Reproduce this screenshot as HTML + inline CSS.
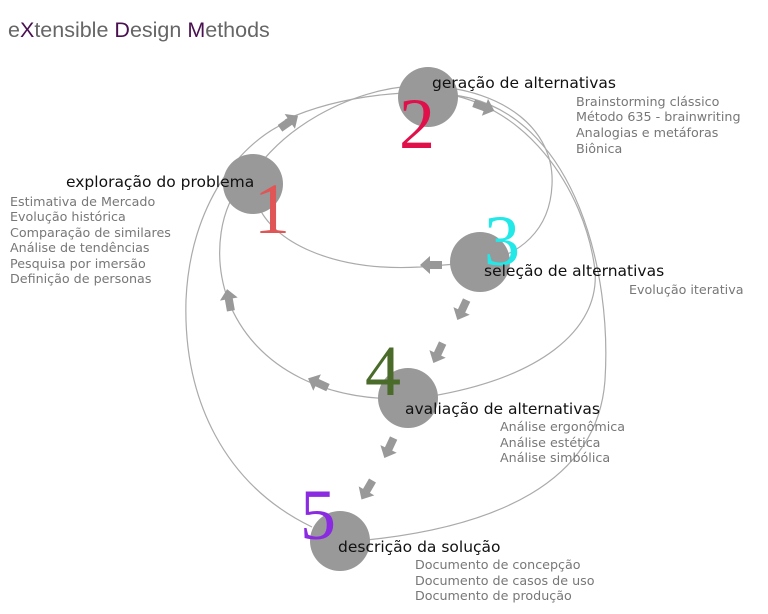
<!DOCTYPE html>
<html><head><meta charset="utf-8"><style>
html,body{margin:0;padding:0;background:#fff;}
svg{display:block;}
.t{font-family:"Liberation Sans",sans-serif;}
.lab{font-family:"DejaVu Sans","Liberation Sans",sans-serif;font-size:15.5px;fill:#111;}
.sub{font-family:"DejaVu Sans","Liberation Sans",sans-serif;font-size:12.7px;fill:#777;}
.num{font-family:"Liberation Serif",serif;font-size:72px;}
</style></head><body>
<svg width="768" height="614" viewBox="0 0 768 614" xmlns="http://www.w3.org/2000/svg">
<defs>
<polygon id="ar" points="-11,-4 1,-4 1,-9 11,0 1,9 1,4 -11,4" fill="#999"/>
</defs>
<text x="8" y="37" class="t" font-size="21.5" fill="#666">e<tspan fill="#4a1050">X</tspan>tensible <tspan fill="#4a1050">D</tspan>esign <tspan fill="#4a1050">M</tspan>ethods</text>
<g fill="none" stroke="#aaa" stroke-width="1.2">
<path d="M240,200 C 265,130 360,82 430,86 C 505,90 555,130 552,185 C 550,230 520,256 480,262 L 420,267 C 330,272 272,240 258,205"/>
<path d="M430,92 C 525,98 585,190 595,270 C 600,330 540,380 420,398 C 330,405 255,370 228,300 C 212,255 220,205 245,180"/>
<path d="M285,120 C 340,95 420,86 470,98 C 575,125 612,270 605,380 C 598,480 500,530 345,542"/>
<path d="M312,527 C 225,485 183,400 186,300 C 190,205 240,140 292,120"/>
</g>
<circle cx="253" cy="184" r="30" fill="#999"/>
<circle cx="428" cy="97" r="30" fill="#999"/>
<circle cx="480" cy="262" r="30" fill="#999"/>
<circle cx="408" cy="398" r="30" fill="#999"/>
<circle cx="340" cy="541" r="30" fill="#999"/>
<use href="#ar" transform="translate(289,122) rotate(-35)"/>
<use href="#ar" transform="translate(484,107) rotate(20)"/>
<use href="#ar" transform="translate(431,265) rotate(180)"/>
<use href="#ar" transform="translate(462,310) rotate(115)"/>
<use href="#ar" transform="translate(438,353) rotate(115)"/>
<use href="#ar" transform="translate(318,383) rotate(-155)"/>
<use href="#ar" transform="translate(229,300) rotate(-100)"/>
<use href="#ar" transform="translate(389,448) rotate(115)"/>
<use href="#ar" transform="translate(367,490) rotate(120)"/>
<text x="254" y="233" class="num" fill="#e05555">1</text>
<text x="399" y="148" class="num" fill="#e0104a">2</text>
<text x="484" y="265" class="num" fill="#22e8e8">3</text>
<text x="365" y="395" class="num" fill="#4a6b2a">4</text>
<text x="300" y="539" class="num" fill="#8a2be2">5</text>
<text x="66" y="187" class="lab">exploração do problema</text>
<g class="sub"><text x="10" y="206">Estimativa de Mercado</text><text x="10" y="221">Evolução histórica</text><text x="10" y="237">Comparação de similares</text><text x="10" y="252">Análise de tendências</text><text x="10" y="268">Pesquisa por imersão</text><text x="10" y="283">Definição de personas</text></g>
<text x="432" y="88" class="lab">geração de alternativas</text>
<g class="sub"><text x="576" y="106">Brainstorming clássico</text><text x="576" y="121">Método 635 - brainwriting</text><text x="576" y="137">Analogias e metáforas</text><text x="576" y="153">Biônica</text></g>
<text x="484" y="276" class="lab">seleção de alternativas</text>
<text x="629" y="294" class="sub">Evolução iterativa</text>
<text x="405" y="414" class="lab">avaliação de alternativas</text>
<g class="sub"><text x="500" y="431">Análise ergonômica</text><text x="500" y="447">Análise estética</text><text x="500" y="462">Análise simbólica</text></g>
<text x="338" y="552" class="lab">descrição da solução</text>
<g class="sub"><text x="415" y="569">Documento de concepção</text><text x="415" y="585">Documento de casos de uso</text><text x="415" y="600">Documento de produção</text></g>
</svg>
</body></html>
